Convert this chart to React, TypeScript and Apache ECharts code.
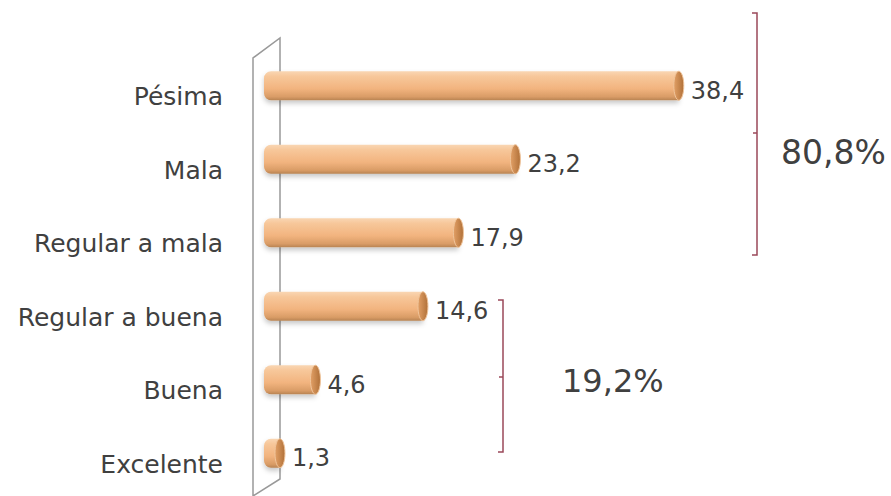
import React, { useEffect, useRef } from "react";
import * as echarts from "echarts";

const categories = ["Pésima", "Mala", "Regular a mala", "Regular a buena", "Buena", "Excelente"];
const values = [38.4, 23.2, 17.9, 14.6, 4.6, 1.3];
const groupTotals = [80.8, 19.2];

const fmt = (v: number, d = 1) => v.toFixed(d).replace(".", ",");

export default function App() {
  const ref = useRef<HTMLDivElement>(null);
  useEffect(() => {
    if (!ref.current) return;
    const chart = echarts.init(ref.current, null, { renderer: "svg" });
    const font = "DejaVu Sans";
    const bodyFill = new echarts.graphic.LinearGradient(0, 0, 0, 1, [
      { offset: 0, color: "#f9d6b3" },
      { offset: 0.18, color: "#f7c79a" },
      { offset: 0.6, color: "#f2b47f" },
      { offset: 0.88, color: "#d99c66" },
      { offset: 1, color: "#b88353" },
    ]);
    const capFill = new echarts.graphic.LinearGradient(0, 0, 1, 0, [
      { offset: 0, color: "#e2a066" },
      { offset: 1, color: "#b07038" },
    ]);
    chart.setOption({
      animation: false,
      grid: { left: 266, right: 195, top: 49, bottom: 6 },
      xAxis: { type: "value", min: 0, max: 40, show: false },
      yAxis: {
        type: "category",
        data: categories,
        inverse: true,
        axisLine: { show: false },
        axisTick: { show: false },
        axisLabel: {
          margin: 43,
          fontFamily: font,
          fontSize: 25,
          color: "#404040",
          verticalAlign: "top",
          lineHeight: 22,
        },
      },
      graphic: [
        {
          type: "polyline",
          z: 0,
          shape: { points: [[253, 500], [253, 58], [280, 38], [280, 479], [253, 496]] },
          style: { stroke: "#999999", lineWidth: 1.5, fill: "none" },
        },
        {
          type: "polyline",
          shape: { points: [[752, 13], [757, 13], [757, 255], [752, 255]] },
          style: { stroke: "#9b4859", lineWidth: 1.5, fill: "none" },
        },
        {
          type: "line",
          shape: { x1: 757, y1: 133, x2: 753, y2: 133 },
          style: { stroke: "#9b4859", lineWidth: 1.5 },
        },
        {
          type: "polyline",
          shape: { points: [[498, 300], [503, 300], [503, 452], [498, 452]] },
          style: { stroke: "#9b4859", lineWidth: 1.5, fill: "none" },
        },
        {
          type: "line",
          shape: { x1: 503, y1: 377, x2: 499, y2: 377 },
          style: { stroke: "#9b4859", lineWidth: 1.5 },
        },
        {
          type: "text",
          x: 781,
          y: 152,
          style: {
            text: fmt(groupTotals[0]) + "%",
            fontFamily: font,
            fontSize: 33,
            fill: "#404040",
            verticalAlign: "middle",
          },
        },
        {
          type: "text",
          x: 562,
          y: 381,
          style: {
            text: fmt(groupTotals[1]) + "%",
            fontFamily: font,
            fontSize: 32,
            fill: "#404040",
            verticalAlign: "middle",
          },
        },
      ],
      series: [
        {
          type: "custom",
          z: 5,
          encode: { x: 0, y: 1 },
          data: values.map((v, i) => [v, i]),
          renderItem: (params: any, api: any) => {
            const v = api.value(0);
            const c = api.value(1);
            const s = api.coord([0, c]);
            const e = api.coord([v, c]);
            const h = 29;
            const cy = s[1];
            const x0 = s[0] - 2;
            return {
              type: "group",
              children: [
                {
                  type: "rect",
                  shape: { x: x0, y: cy - h / 2, width: e[0] - x0, height: h, r: [7, 0, 0, 7] },
                  style: {
                    fill: bodyFill,
                    shadowBlur: 5,
                    shadowColor: "rgba(0,0,0,0.22)",
                    shadowOffsetY: 3,
                  },
                },
                {
                  type: "ellipse",
                  shape: { cx: e[0], cy: cy, rx: 5, ry: h / 2 },
                  style: { fill: capFill, stroke: "#f0c49a", lineWidth: 1 },
                },
                {
                  type: "text",
                  x: e[0] + 12,
                  y: cy + 5,
                  style: {
                    text: fmt(v),
                    fontFamily: font,
                    fontSize: 24,
                    fill: "#404040",
                    verticalAlign: "middle",
                  },
                },
              ],
            };
          },
        },
      ],
    });
    return () => chart.dispose();
  }, []);
  return (
    <div
      ref={ref}
      style={{ position: "absolute", left: 0, top: 0, width: 891, height: 496, background: "#fff" }}
    />
  );
}
